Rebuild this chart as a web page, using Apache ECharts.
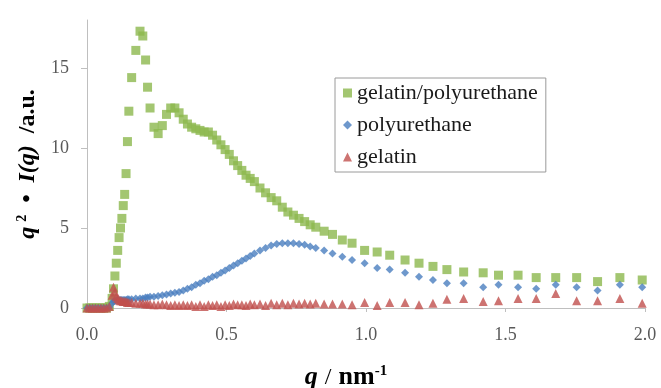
<!DOCTYPE html>
<html>
<head>
<meta charset="utf-8">
<script src="https://cdn.jsdelivr.net/npm/echarts@6/dist/echarts.min.js"></script>
<style>
  html, body { margin: 0; padding: 0; background: #fff; }
  #chart { width: 661px; height: 388px; }
</style>
</head>
<body>
<div id="chart"></div>
<script>
// scattering vector q (nm^-1), shared by all three series
const q = [
  0.00, 0.01, 0.02, 0.03, 0.04, 0.05, 0.06, 0.07, 0.08, 0.09,
  0.095, 0.10, 0.105, 0.11, 0.115, 0.12, 0.125, 0.13, 0.135, 0.14,
  0.145, 0.15, 0.16, 0.175, 0.19, 0.20, 0.21, 0.217, 0.226, 0.24,
  0.255, 0.27, 0.285, 0.30, 0.315, 0.33, 0.345, 0.36, 0.375, 0.39,
  0.405, 0.42, 0.435, 0.45, 0.465, 0.48, 0.495, 0.51, 0.525, 0.54,
  0.555, 0.57, 0.585, 0.60, 0.62, 0.64, 0.66, 0.68, 0.70, 0.72,
  0.74, 0.76, 0.78, 0.80, 0.82, 0.85, 0.88, 0.915, 0.95, 0.995,
  1.04, 1.085, 1.14, 1.19, 1.24, 1.29, 1.35, 1.42, 1.475, 1.545,
  1.61, 1.68, 1.755, 1.83, 1.91, 1.99
]

const gelatinPolyurethane = [
  0, 0, 0, 0, 0, 0, 0, 0, 0.1, 0.6,
  1.2, 2.0, 2.8, 3.6, 4.4, 5.0, 5.6, 6.4, 7.1, 8.4,
  10.4, 12.3, 14.4, 16.1, 17.3, 17.0, 15.5, 13.8, 12.5, 11.3,
  10.9, 11.4, 12.1, 12.5, 12.5, 12.2, 11.8, 11.5, 11.3, 11.2,
  11.1, 11.0, 11.0, 10.8, 10.5, 10.2, 9.9, 9.6, 9.2, 8.9,
  8.6, 8.3, 8.1, 7.9, 7.5, 7.2, 6.9, 6.7, 6.3, 6.0,
  5.8, 5.6, 5.4, 5.2, 5.05, 4.8, 4.6, 4.25, 4.05, 3.6,
  3.5, 3.3, 3.0, 2.8, 2.6, 2.4, 2.25, 2.2, 2.05, 2.05,
  1.9, 1.9, 1.9, 1.65, 1.9, 1.75
]

const polyurethane = [
  0, 0, 0, 0, 0, 0, 0, 0, 0.05, 0.3,
  0.4, 0.45, 0.45, 0.5, 0.5, 0.5, 0.5, 0.5, 0.5, 0.5,
  0.55, 0.55, 0.55, 0.6, 0.6, 0.6, 0.65, 0.65, 0.7, 0.7,
  0.75, 0.8, 0.85, 0.9, 0.95, 1.0, 1.1, 1.2, 1.3, 1.45,
  1.55, 1.7, 1.8, 1.95, 2.05, 2.2, 2.35, 2.5, 2.65, 2.8,
  2.95, 3.1, 3.25, 3.4, 3.6, 3.75, 3.9, 4.0, 4.05, 4.05,
  4.05, 4.0, 3.95, 3.85, 3.75, 3.6, 3.4, 3.2, 3.0, 2.8,
  2.5, 2.4, 2.2, 1.95, 1.75, 1.55, 1.55, 1.3, 1.45, 1.3,
  1.2, 1.45, 1.3, 1.1, 1.45, 1.3
]

const gelatin = [
  0, 0, 0, 0, 0, 0, 0, 0, 0.1, 0.8,
  1.3, 1.0, 0.7, 0.6, 0.5, 0.45, 0.45, 0.4, 0.4, 0.4,
  0.35, 0.35, 0.35, 0.3, 0.3, 0.3, 0.25, 0.25, 0.25, 0.2,
  0.2, 0.25, 0.2, 0.15, 0.2, 0.15, 0.2, 0.15, 0.2, 0.1,
  0.2, 0.1, 0.2, 0.15, 0.2, 0.1, 0.2, 0.15, 0.25, 0.2,
  0.2, 0.15, 0.25, 0.2, 0.25, 0.15, 0.3, 0.2, 0.3, 0.2,
  0.3, 0.25, 0.3, 0.25, 0.3, 0.25, 0.25, 0.25, 0.2, 0.35,
  0.15, 0.35, 0.35, 0.2, 0.3, 0.55, 0.6, 0.4, 0.45, 0.6,
  0.6, 0.9, 0.45, 0.45, 0.6, 0.3
]

const xTicks = [0, 0.5, 1.0, 1.5, 2.0]
const yTicks = [0, 5, 10, 15]

const serif = '"Liberation Serif", "DejaVu Serif", serif'
const axisGray = '#bfbfbf'
const labelGray = '#595959'

const pairs = vals => q.map((x, i) => [x, vals[i]])

const chart = echarts.init(document.getElementById('chart'))

chart.setOption({
  animation: false,
  backgroundColor: '#fff',
  grid: { left: 87, right: 16, top: 20, bottom: 80, containLabel: false, outerBoundsMode: 'none' },
  legend: {
    orient: 'vertical',
    left: 335,
    top: 78,
    padding: [4, 8, 4, 8],
    itemGap: 10,
    itemWidth: 9,
    itemHeight: 9,
    borderColor: '#9a9a9a',
    borderWidth: 1,
    textStyle: { fontFamily: serif, fontSize: 22, color: '#1a1a1a' },
    data: ['gelatin/polyurethane', 'polyurethane', 'gelatin']
  },
  xAxis: {
    type: 'value',
    min: 0,
    max: 2,
    interval: 0.5,
    name: '{i|q}{g| }{n|/}{g| }{b|nm}{sup|-1}',
    nameLocation: 'middle',
    nameGap: 56,
    nameTextStyle: {
      padding: [0, 40, 0, 0],
      rich: {
        i: { fontFamily: serif, fontSize: 26, fontWeight: 'bold', fontStyle: 'italic', color: '#000' },
        n: { fontFamily: serif, fontSize: 24, color: '#000' },
        g: { fontFamily: serif, fontSize: 24, width: 7 },
        b: { fontFamily: serif, fontSize: 26, fontWeight: 'bold', color: '#000' },
        sup: { fontFamily: serif, fontSize: 15, fontWeight: 'bold', color: '#000', verticalAlign: 'top', padding: [0, 0, 12, 0] }
      }
    },
    axisLine: { lineStyle: { color: axisGray, width: 1 } },
    axisTick: { show: true, length: 4, lineStyle: { color: axisGray }, customValues: xTicks },
    axisLabel: {
      customValues: xTicks,
      margin: 18,
      fontFamily: serif,
      fontSize: 18,
      color: labelGray,
      formatter: v => v.toFixed(1)
    },
    splitLine: { show: false }
  },
  yAxis: {
    type: 'value',
    min: 0,
    max: 18,
    interval: 5,
    name: '{i|q}{g1| }{sup|2}{g| }{b|•}{g| }{i|I(q)}{g| }{b|/a.u.}',
    nameLocation: 'middle',
    nameRotate: 90,
    nameGap: 36,
    nameTextStyle: {
      rich: {
        i: { fontFamily: serif, fontSize: 24, fontWeight: 'bold', fontStyle: 'italic', color: '#000' },
        b: { fontFamily: serif, fontSize: 24, fontWeight: 'bold', color: '#000' },
        g: { fontFamily: serif, fontSize: 24, width: 12 },
        g1: { fontFamily: serif, fontSize: 24, width: 5 },
        sup: { fontFamily: serif, fontSize: 14, fontWeight: 'bold', color: '#000', padding: [0, 0, 12, 0] }
      }
    },
    axisLine: { show: true, lineStyle: { color: axisGray, width: 1 } },
    axisTick: { show: true, length: 6, lineStyle: { color: axisGray }, customValues: yTicks },
    axisLabel: {
      customValues: yTicks,
      margin: 18,
      fontFamily: serif,
      fontSize: 18,
      color: labelGray
    },
    splitLine: { show: false }
  },
  series: [
    {
      name: 'gelatin/polyurethane',
      type: 'scatter',
      symbol: 'rect',
      symbolSize: 9,
      itemStyle: { color: '#8cb84e' },
      data: pairs(gelatinPolyurethane)
    },
    {
      name: 'polyurethane',
      type: 'scatter',
      symbol: 'diamond',
      symbolSize: 8,
      itemStyle: { color: '#4a7ebf' },
      data: pairs(polyurethane)
    },
    {
      name: 'gelatin',
      type: 'scatter',
      symbol: 'triangle',
      symbolSize: 9,
      itemStyle: { color: '#c0504d' },
      data: pairs(gelatin)
    }
  ]
})
</script>
</body>
</html>
